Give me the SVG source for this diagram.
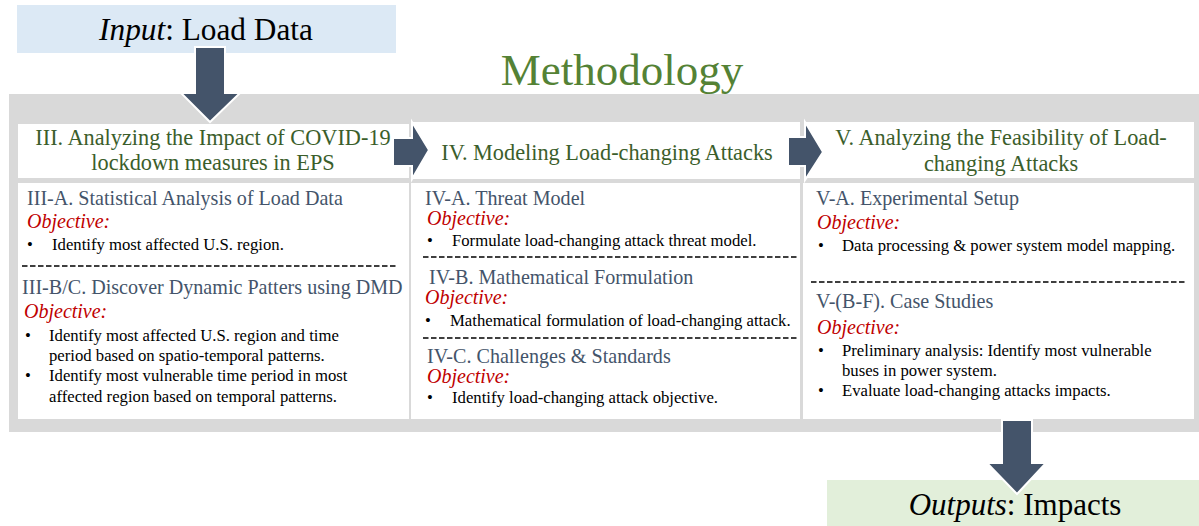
<svg xmlns="http://www.w3.org/2000/svg" width="1199" height="526" viewBox="0 0 1199 526">
<style>
text{font-family:"Liberation Serif","Times New Roman",serif}
.hdr{fill:#3b5e2b;font-size:22.3px}
.sec{fill:#44546a;font-size:20.1px}
.obj{fill:#c00000;font-size:20px;font-style:italic}
.bul{fill:#000;font-size:16.7px}
.box{fill:#fff}
.arrow{fill:#44546a;stroke:#fff;stroke-width:2}
.dash{stroke:#000;stroke-width:1.5;stroke-dasharray:5.5 2.5}
</style>
<rect x="0" y="0" width="1199" height="526" fill="#fff"/>
<g id="background"><rect x="9" y="94" width="1190" height="338" fill="#d9d9d9"/></g>
<g id="input">
<rect x="17" y="5" width="379" height="48" fill="#dce9f5"/>
<text x="206" y="40" text-anchor="middle" font-size="31.3"><tspan font-style="italic">Input</tspan>: Load Data</text>
</g>
<g id="title"><text x="622" y="85" text-anchor="middle" font-size="45" fill="#548235">Methodology</text></g>
<g id="col3">
<rect class="box" x="18" y="124" width="391" height="54"/>
<text class="hdr" x="213" y="145" text-anchor="middle">III. Analyzing the Impact of COVID-19</text>
<text class="hdr" x="213" y="170" text-anchor="middle">lockdown measures in EPS</text>
<rect class="box" x="18" y="183" width="391" height="236"/>
<text class="sec" x="27" y="205">III-A. Statistical Analysis of Load Data</text>
<text class="obj" x="27" y="228">Objective:</text>
<text class="bul" x="27" y="250">•</text><text class="bul" x="52" y="250">Identify most affected U.S. region.</text>
<line class="dash" x1="22" y1="266" x2="398" y2="266"/>
<text class="sec" x="22" y="294">III-B/C. Discover Dynamic Patters using DMD</text>
<text class="obj" x="24" y="318">Objective:</text>
<text class="bul" x="25" y="341">•</text><text class="bul" x="49" y="341">Identify most affected U.S. region and time</text>
<text class="bul" x="49" y="361">period based on spatio-temporal patterns.</text>
<text class="bul" x="25" y="381">•</text><text class="bul" x="49" y="381">Identify most vulnerable time period in most</text>
<text class="bul" x="49" y="402">affected region based on temporal patterns.</text>
</g>
<g id="col4">
<rect class="box" x="411" y="122" width="389" height="57"/>
<text class="hdr" x="607" y="160" text-anchor="middle">IV. Modeling Load-changing Attacks</text>
<rect class="box" x="411" y="183" width="389" height="236"/>
<text class="sec" x="425" y="205">IV-A. Threat Model</text>
<text class="obj" x="427" y="225">Objective:</text>
<text class="bul" x="427" y="246">•</text><text class="bul" x="452" y="246">Formulate load-changing attack threat model.</text>
<line class="dash" x1="423" y1="257" x2="798" y2="257"/>
<text class="sec" x="429" y="284">IV-B. Mathematical Formulation</text>
<text class="obj" x="425" y="304">Objective:</text>
<text class="bul" x="425" y="326">•</text><text class="bul" x="450" y="326">Mathematical formulation of load-changing attack.</text>
<line class="dash" x1="423" y1="338" x2="798" y2="338"/>
<text class="sec" x="427" y="363">IV-C. Challenges &amp; Standards</text>
<text class="obj" x="427" y="383">Objective:</text>
<text class="bul" x="427" y="403">•</text><text class="bul" x="452" y="403">Identify load-changing attack objective.</text>
</g>
<g id="col5">
<rect class="box" x="805" y="122" width="389" height="56"/>
<text class="hdr" x="1001" y="145" text-anchor="middle">V. Analyzing the Feasibility of Load-</text>
<text class="hdr" x="1001" y="171" text-anchor="middle">changing Attacks</text>
<rect class="box" x="803" y="183" width="391" height="236"/>
<text class="sec" x="816" y="205">V-A. Experimental Setup</text>
<text class="obj" x="817" y="229">Objective:</text>
<text class="bul" x="818" y="251">•</text><text class="bul" x="842" y="251">Data processing &amp; power system model mapping.</text>
<line class="dash" x1="811" y1="282" x2="1186" y2="282"/>
<text class="sec" x="816" y="308">V-(B-F). Case Studies</text>
<text class="obj" x="817" y="334">Objective:</text>
<text class="bul" x="818" y="356">•</text><text class="bul" x="842" y="356">Preliminary analysis: Identify most vulnerable</text>
<text class="bul" x="842" y="376">buses in power system.</text>
<text class="bul" x="818" y="396">•</text><text class="bul" x="842" y="396">Evaluate load-changing attacks impacts.</text>
</g>
<g id="output">
<rect x="827" y="480" width="372" height="46" fill="#e2efda"/>
<text x="1015" y="515" text-anchor="middle" font-size="31"><tspan font-style="italic">Outputs</tspan>: Impacts</text>
</g>
<g id="connectors">
<polygon class="arrow" points="195,47 225,47 225,93 240,93 210,122 181,93 195,93"/>
<polygon class="arrow" points="393,138 412,138 412,122 429,150 412,179 412,166 393,166"/>
<polygon class="arrow" points="788,137 805,137 805,122 823,152 805,180 805,166 788,166"/>
<polygon class="arrow" points="1002,420 1032,420 1032,463 1046,463 1017,494 987,463 1002,463"/>
</g>
</svg>
